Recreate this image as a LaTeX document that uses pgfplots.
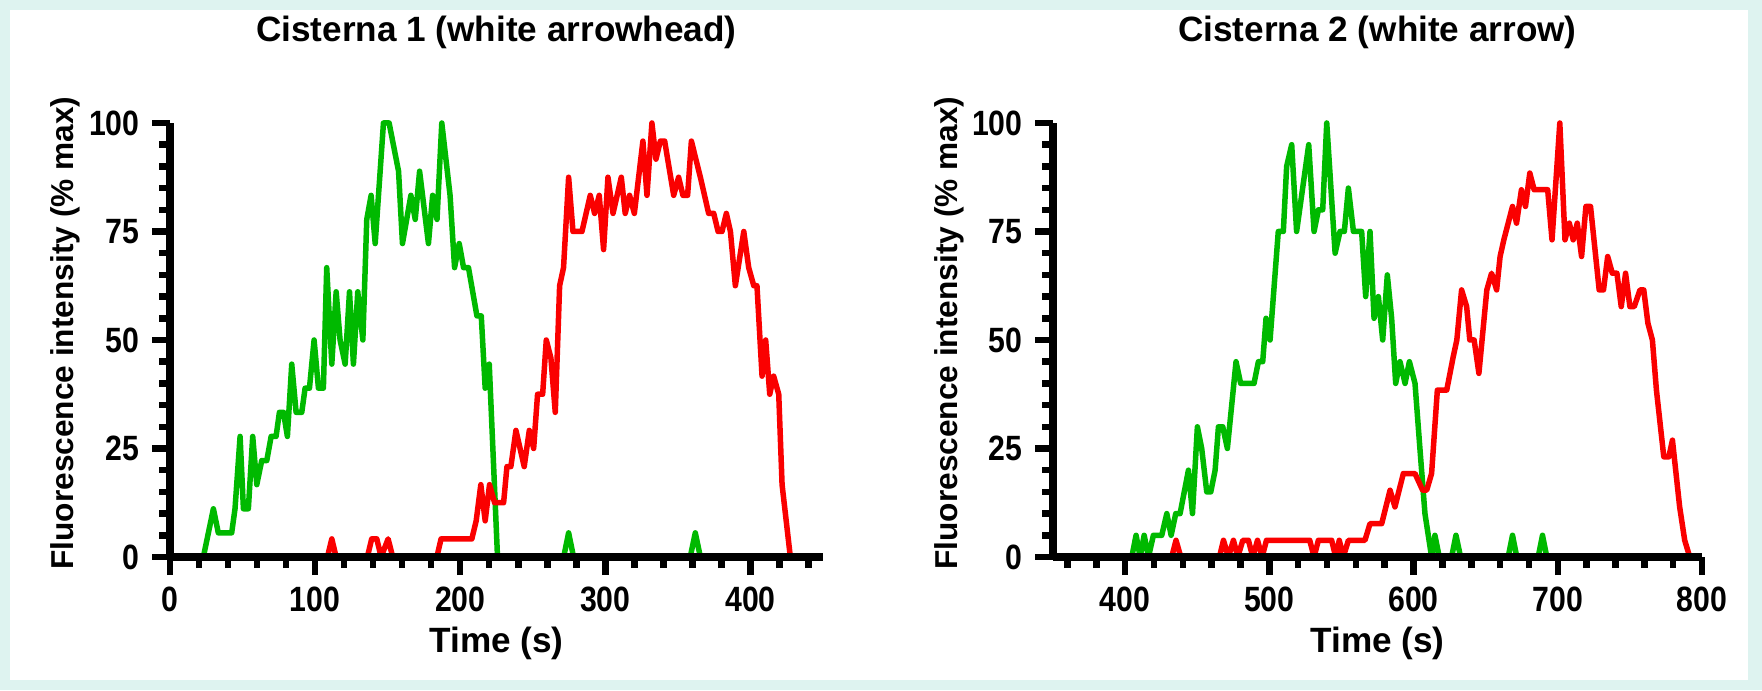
\documentclass[border=0pt]{standalone}
\usepackage{fontspec}
\setmainfont{Liberation Sans}
\newfontfamily\tickfont[FakeStretch=0.86]{Liberation Sans}
\usepackage{pgfplots}
\pgfplotsset{compat=1.18}

\definecolor{cgreen}{RGB}{0,185,0}
\definecolor{cred}{RGB}{250,0,0}
\definecolor{bgframe}{RGB}{222,243,240}

\pgfplotsset{
  cist/.style={
    width=65.3mm, height=43.4mm, scale only axis,
    axis lines=left, axis line style={-, line width=0.75mm},
    axis on top, clip=false,
    ymin=0, ymax=100, ytick={0,25,50,75,100}, minor ytick={5,10,...,95},
    tick align=outside, major tick length=1.8mm, minor tick length=1.1mm,
    tick style={black, line width=0.65mm},
    ticklabel style={font=\tickfont\bfseries\fontsize{10}{11}\selectfont},
    /pgf/number format/assume math mode=true,
    xlabel={Time (s)}, ylabel={Fluorescence intensity (\% max)},
    xlabel style={font=\bfseries\fontsize{10}{12}\selectfont,
      at={(axis description cs:0.5,-0.198)}, anchor=center},
    ylabel style={font=\bfseries\fontsize{9}{11}\selectfont,
      at={(axis description cs:-0.16,0.516)}, anchor=center},
    title style={font=\bfseries\fontsize{10}{12}\selectfont,
      at={(axis description cs:0.5,1.161)}, anchor=center},
    every axis plot/.append style={line width=0.55mm, line join=round, mark=none},
  }
}

\begin{document}
\begin{tikzpicture}
\fill[bgframe] (0,0) rectangle (176.2mm,69mm);
\fill[white] (1mm,1mm) rectangle (174.8mm,68mm);
\useasboundingbox (0,0) rectangle (176.2mm,69mm);

% Cisterna 1
\begin{axis}[cist, at={(17mm,13.3mm)}, anchor=south west,
    title={Cisterna 1 (white arrowhead)},
    xmin=0, xmax=450, xtick={0,100,...,400}, minor xtick={20,40,...,440}]
\addplot[cgreen] coordinates {
 (0,0) (23,0) (29.9,11.11) (33.3,5.56) (42.5,5.56) (44.8,11.11) (48.3,27.78)
 (50.6,11.11) (54,11.11) (57,27.78) (59.8,16.67) (63.2,22.22) (66.7,22.22)
 (69.7,27.78) (73.1,27.78) (75.4,33.33) (78.2,33.33) (80.9,27.78) (83.9,44.44)
 (86.9,33.33) (90.8,33.33) (93.1,38.89) (96.1,38.89) (99.3,50) (102.3,38.89)
 (105.7,38.89) (108,66.67) (111.5,44.44) (114.5,61.11) (117.2,50) (120.7,44.44)
 (123.7,61.11) (126.4,44.44) (129.4,61.11) (132.9,50) (135.6,77.78) (138.6,83.33)
 (141.4,72.22) (147.1,100) (151,100) (157.5,88.89) (160.2,72.22) (166,83.33)
 (169,77.78) (172,88.89) (178.1,72.22) (181,83.33) (184,77.78) (187.3,100)
 (193,83.33) (196.1,66.67) (199.3,72.22) (202.3,66.67) (205.7,66.67) (211.5,55.56)
 (214.5,55.56) (217.2,38.89) (220,44.44) (225.7,0) (271.3,0) (274.7,5.56)
 (278.1,0) (358.5,0) (362,5.56) (365.5,0) (440,0)
};
\addplot[cred] coordinates {
 (0,0) (108.5,0) (111.5,4.17) (114.5,0) (136,0) (139,4.17) (142.5,4.17)
 (145.5,0) (150.3,4.17) (153.5,0) (183.9,0) (186.8,4.17) (208,4.17) (211,8.33)
 (214.2,16.67) (217.2,8.33) (220.2,16.67) (223.7,12.5) (229.9,12.5) (232.2,20.83)
 (234.9,20.83) (238.4,29.17) (244.1,20.83) (247.6,29.17) (250.6,25) (253.3,37.5)
 (256.8,37.5) (259.3,50) (262.5,45.83) (265.5,33.33) (268.5,62.5) (271.2,66.67)
 (274.7,87.5) (277.7,75) (283.9,75) (289.6,83.33) (292.6,79.17) (295.8,83.33)
 (298.8,70.83) (301.8,87.5) (305.3,79.17) (311,87.5) (313.7,79.17) (316.7,83.33)
 (320,79.17) (325.9,95.83) (328.7,83.33) (332.1,100) (334.9,91.67) (337.9,95.83)
 (340.9,95.83) (347.1,83.33) (350.5,87.5) (353.5,83.33) (356.7,83.33) (359.3,95.83)
 (365.5,87.5) (371.2,79.17) (374.7,79.17) (377.7,75) (380.4,75) (383.4,79.17)
 (386.2,75) (389.6,62.5) (395.4,75) (398.8,66.67) (402.3,62.5) (404.5,62.5)
 (408,41.67) (410.5,50) (413.3,37.5) (416,41.67) (419.5,37.5) (421.8,16.67)
 (427.5,0)
};
\end{axis}

% Cisterna 2
\begin{axis}[cist, at={(105.3mm,13.3mm)}, anchor=south west, width=64.9mm,
    title={Cisterna 2 (white arrow)},
    xmin=350, xmax=800, xtick={400,500,...,800}, minor xtick={360,380,...,780}]
\addplot[cgreen] coordinates {
 (350,0) (404.6,0) (407.6,5) (410.4,0) (413.2,5) (416.2,0) (419.6,5) (425.4,5)
 (428.9,10) (431.9,5) (435.1,10) (438.1,10) (443.9,20) (446.7,10) (450.1,30)
 (453.1,25) (456.6,15) (459.4,15) (462.4,20) (464.7,30) (467.7,30) (470.9,25)
 (476.9,45) (480.1,40) (489.4,40) (492.4,45) (495.4,45) (497.7,55) (500.5,50)
 (506.2,75) (509.7,75) (512,90) (515.5,95) (518.9,75) (527.3,95) (531,75)
 (534,80) (537,80) (539.8,100) (545.6,70) (549,75) (552,75) (554.8,85)
 (558.3,75) (564,75) (566.8,60) (569.8,75) (572.6,55) (575.6,60) (578.6,50)
 (581.8,65) (584.8,55) (587.6,40) (590.6,45) (594.1,40) (597.1,45) (601,40)
 (604.4,25) (607.9,10) (612.5,0) (614.8,5) (617.8,0) (626.4,0) (629.4,5)
 (632.6,0) (665.6,0) (668.6,5) (671.6,0) (686.4,0) (689.4,5) (692.4,0) (790,0)
};
\addplot[cred] coordinates {
 (350,0) (432.3,0) (435.3,3.85) (438.6,0) (465.4,0) (468.2,3.85) (471.6,0)
 (475.1,3.85) (478.1,0) (481.6,3.85) (485.5,3.85) (488.5,0) (491.8,3.85)
 (495,0) (498,3.85) (528,3.85) (531,0) (534,3.85) (543.2,3.85) (546,0)
 (548.5,3.85) (551.3,0) (554.8,3.85) (566.3,3.85) (569.8,7.69) (577.9,7.69)
 (583.7,15.38) (587.1,11.54) (592.9,19.23) (601,19.23) (606.3,15.38)
 (609.1,15.38) (612.5,19.23) (616.5,38.46) (623,38.46) (627.5,46.15) (630,50)
 (633.3,61.54) (636.8,57.69) (639,50) (642,50) (645.3,42.31) (650.8,61.54)
 (654.1,65.38) (657.6,61.54) (660,69.23) (662.6,73.08) (665.6,76.92)
 (668.6,80.77) (671.4,76.92) (674.8,84.62) (677.6,80.77) (680.6,88.46)
 (683.6,84.62) (693,84.62) (696,73.08) (701.4,100) (705,73.08) (708,76.92)
 (710.7,73.08) (713.5,76.92) (716.5,69.23) (719.5,80.77) (722.7,80.77)
 (728.7,61.54) (731.7,61.54) (734.6,69.23) (737.8,65.38) (741,65.38)
 (744,57.69) (747,65.38) (750,57.69) (753,57.69) (757,61.54) (759.6,61.54)
 (762.5,53.85) (765.6,50) (768.4,38.46) (773.5,23.08) (777,23.08)
 (779.5,26.92) (784.5,11.54) (788,3.85) (791.5,0)
};
\end{axis}
\end{tikzpicture}
\end{document}
